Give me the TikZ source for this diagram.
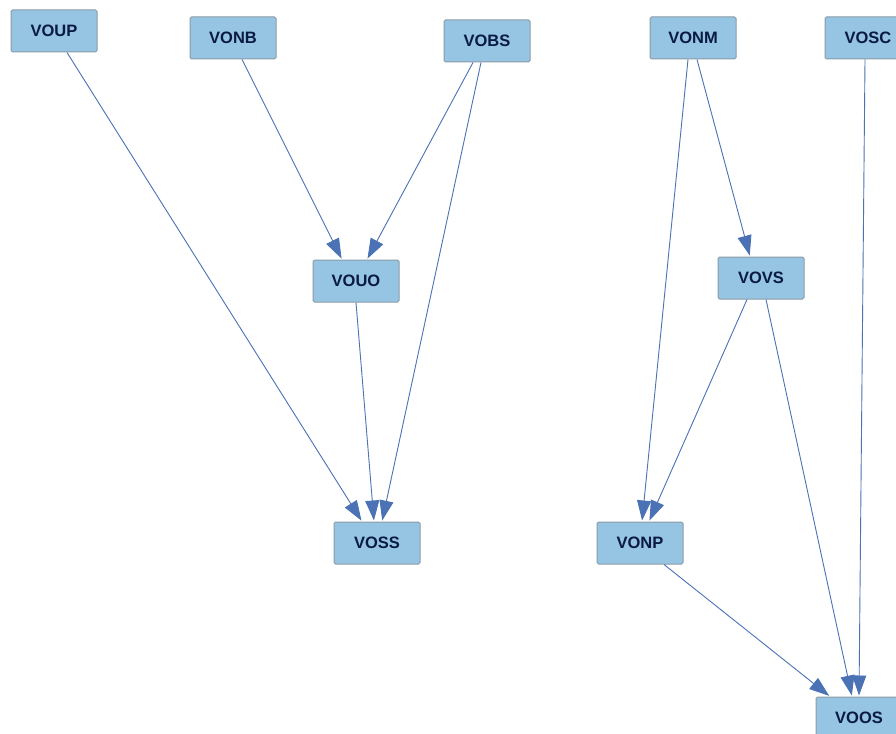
\documentclass[tikz,border=0pt]{standalone}
\usepackage{fontspec}
\setmainfont{Liberation Sans}
\usetikzlibrary{arrows.meta}
\definecolor{nodefill}{HTML}{95C5E3}
\definecolor{nodeline}{HTML}{8C9BA8}
\definecolor{nodetext}{HTML}{0A1A40}
\definecolor{edgecol}{HTML}{4A72B5}
\begin{document}
\begin{tikzpicture}[x=1pt,y=-1pt,
  box/.style={draw=nodeline,fill=nodefill,line width=1pt,rounded corners=1.5pt,
    minimum width=86pt,minimum height=42pt,inner sep=0pt,
    font=\fontsize{16.5}{16.5}\selectfont\bfseries,text=nodetext},
  edge/.style={draw=edgecol,line width=0.9pt,-{Triangle[length=20pt,width=14pt]},shorten >=1pt}]
\useasboundingbox (0,0) rectangle (896,733);
\fill[white] (0,0) rectangle (896,733);
\node[box] (VOUP) at (54,31) {VOUP};
\node[box] (VONB) at (233,38) {VONB};
\node[box] (VOBS) at (487,41) {VOBS};
\node[box] (VONM) at (693,38) {VONM};
\node[box] (VOSC) at (868,38) {VOSC};
\node[box] (VOUO) at (356,281) {VOUO};
\node[box] (VOVS) at (761,278) {VOVS};
\node[box] (VOSS) at (377,543) {VOSS};
\node[box] (VONP) at (640,543) {VONP};
\node[box] (VOOS) at (859,718) {VOOS};
\draw[edge] ([xshift=13pt]VOUP.south) -- ([xshift=-15pt]VOSS.north);
\draw[edge] ([xshift=9pt]VONB.south) -- ([xshift=-14pt]VOUO.north);
\draw[edge] ([xshift=-14pt]VOBS.south) -- ([xshift=11pt]VOUO.north);
\draw[edge] ([xshift=-6pt]VOBS.south) -- ([xshift=5pt]VOSS.north);
\draw[edge] (VOUO.south) -- ([xshift=-3pt]VOSS.north);
\draw[edge] ([xshift=-5pt]VONM.south) -- ([xshift=2pt]VONP.north);
\draw[edge] ([xshift=4pt]VONM.south) -- ([xshift=-11pt]VOVS.north);
\draw[edge] ([xshift=-14pt]VOVS.south) -- ([xshift=9pt]VONP.north);
\draw[edge] ([xshift=5pt]VOVS.south) -- ([xshift=-7pt]VOOS.north);
\draw[edge] ([xshift=24pt]VONP.south) -- ([xshift=-29pt]VOOS.north);
\draw[edge] ([xshift=-3pt]VOSC.south) -- ([xshift=0pt]VOOS.north);
\end{tikzpicture}
\end{document}
